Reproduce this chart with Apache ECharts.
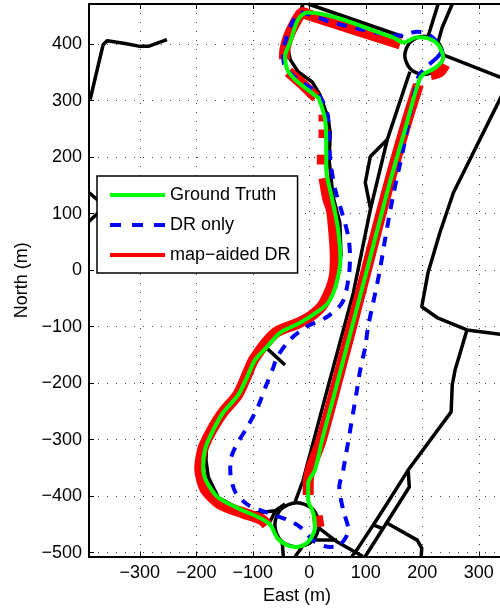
<!DOCTYPE html>
<html><head><meta charset="utf-8">
<style>html,body{margin:0;padding:0;background:#fff}#c{width:500px;height:608px}</style>
<script src="https://cdn.jsdelivr.net/npm/echarts@6/dist/echarts.min.js"></script>
</head><body><div id="c"></div>
<script>
const xTicks=[-300,-200,-100,0,100,200,300];
const yTicks=[-500,-400,-300,-200,-100,0,100,200,300,400];
const groundTruth=[[15.6,307],[28,266],[30,213],[30,178],[40,128],[51,71],[55,18],[46,-30],[33,-58],[14,-74],[-16,-93],[-52,-111],[-75,-136],[-96,-159],[-110,-189],[-126,-221],[-153,-253],[-170,-283],[-184,-315],[-188,-348],[-186,-364],[-179,-380],[-161,-403],[-119,-425],[-91,-437],[-69,-451],[-57,-474],[-39,-487],[-22,-490],[-2,-481],[10,-455],[7,-430],[-2,-407],[-2,-377],[10,-354],[22.5,-301],[46,-213],[102,0],[139,142],[172,258],[193,332],[201,346],[223,358],[237,376],[228,399],[210,410],[191,412],[166,403],[148,412],[-4,456],[-20,443],[-34,403],[-43,378],[-39,355],[-25,337],[1.4,316],[15.6,305]];
const drOnly=[[226,376],[210,362],[194,344],[187,319],[166,213],[148,130],[134,54],[125,0.5],[113,-58],[104,-100],[99,-136],[90,-177],[85,-208],[60,-354],[53,-384],[60,-425],[69,-460],[54,-487],[37,-490],[10,-481],[-16,-455],[-39,-442],[-73,-430],[-108,-416],[-131,-393],[-140,-354],[-140,-341],[-131,-313],[-110,-278],[-91,-242],[-78,-208],[-64,-173],[-57,-154],[-34,-123],[-4,-100],[31,-83],[58,-58],[69,-17],[72,24],[69,59],[58,101],[46,142],[37,195],[33,272],[22,302],[7,319],[-25,341],[-43,360],[-46,376],[-43,403],[-28,443],[-16,456],[1,452],[42,438],[120,420],[161,415],[175,419],[191,422],[205,420],[219,411],[235,390],[226,376]];
const redTop=[[161,400],[-4,453],[-11,456],[-25,438],[-38,410],[-44,381],[-44,373]];
const redWest=[[-37,351],[-11,328],[5,312],[12,306]];
const redDash1=[[26,275],[26,263]];
const redDash2=[[26,249],[26,234]];
const redDash3=[[23,204],[23,187]];
const redMain=[[26,163],[33,125],[39,107],[43,71],[46,24],[44,-12],[26,-58],[6,-79],[-20,-94],[-60,-111],[-97,-156],[-112,-189],[-127,-221],[-153,-252],[-172,-282],[-187,-312],[-191,-327],[-194,-350],[-188,-380],[-180,-394],[-155,-416],[-117,-430],[-84,-442],[-75,-451]];
const redCircle=[[14,-435],[17,-455]];
const redNorth=[[-2,-398],[-2,-375],[21,-301],[45,-213],[101,0],[138,142],[171,258],[193,328]];
const redEnd=[[215,346],[231,351],[240,364]];
const redPieces=[redTop,redWest,redDash1,redDash2,redDash3,redMain,redCircle,redNorth,redEnd];
const roadFarWest=[[-388,302],[-365,399],[-358,406],[-326,401],[-300,396],[-285,396],[-252,408]];
const roadEdge1=[[-390,137],[-370,120]];
const roadEdge2=[[-370,105],[-390,86]];
const roadLoop=[[-11,471],[-39,399],[-34,373],[-20,351],[5,333],[19,310],[28,284],[33,270],[37,243],[35,195],[42,130],[54,84],[56,27],[46,-30],[33,-58],[14,-74],[-16,-93],[-52,-111],[-75,-136],[-96,-159],[-110,-189],[-126,-221],[-153,-253],[-170,-283],[-182,-315],[-183,-336],[-179,-366],[-161,-403],[-119,-425],[-91,-437],[-69,-446]];
const roadTop=[[-2,471],[166,413]];
const roadMainWest=[[178,351],[138,231],[108,107],[78,-40],[33,-207],[-11,-372],[-25,-410]];
const roadMainEast=[[190,330],[22,-301],[-2,-380]];
const roadBump=[[138,231],[108,201],[99,155],[108,110]];
const circleNorth=[[237,380],[234,393],[227,404],[216,411],[203,414],[190,411],[179,404],[172,393],[169,380],[172,367],[179,356],[190,349],[203,346],[216,349],[227,356],[234,367],[237,380]];
const circleSouth=[[17,-451],[14,-436],[6,-423],[-7,-415],[-22,-412],[-37,-415],[-50,-423],[-58,-436],[-61,-451],[-58,-466],[-50,-479],[-37,-487],[-22,-490],[-7,-487],[6,-479],[14,-466],[17,-451]];
const roadN1=[[210,413],[228,471]];
const roadN2=[[228,404],[235,429],[253,471]];
const roadEast=[[237,381],[346,338]];
const roadFarEast=[[346,320],[255,137],[231,66],[210,-5],[199,-65],[226,-84],[279,-106],[350,-115]];
const roadBranch=[[279,-106],[258,-177],[253,-203],[251,-251],[175,-354],[125,-433],[83,-497],[75,-507]];
const roadInner=[[175,-354],[177,-384],[99,-507]];
const roadCross=[[113,-451],[131,-458]];
const roadSE=[[138,-448],[191,-478],[199,-492],[198,-507]];
const roadSE2=[[15,-455],[49,-481],[95,-507]];
const roadSE3=[[7,-478],[49,-478]];
const roadS1=[[-48,-481],[-46,-507]];
const roadS2=[[-13,-490],[-25,-507]];
const roadW=[[-96,-430],[-60,-426],[-43,-414]];
const roadW2=[[-60,-426],[-70,-446]];
const roadSpur=[[-78,-136],[-43,-168]];
const roads=[roadFarWest,roadEdge1,roadEdge2,roadLoop,roadTop,roadMainWest,roadMainEast,roadBump,roadN1,roadN2,roadEast,roadFarEast,roadBranch,roadInner,roadCross,roadSE,roadSE2,roadSE3,roadS1,roadS2,roadW,roadW2,roadSpur];
const circles=[circleNorth,circleSouth];

const FONT='"Liberation Sans",Arial,sans-serif';
const fmt=v=>String(v).replace('-','\u2212');
const joinPieces=p=>p.flatMap(a=>[...a,['-','-']]);
const series=[];
roads.forEach(r=>series.push({type:'line',data:r,symbol:'none',silent:true,z:2,lineStyle:{color:'#000',width:3.5,join:'round'}}));
circles.forEach(r=>series.push({type:'line',data:r,symbol:'none',smooth:0.4,z:2,lineStyle:{color:'#000',width:3.5}}));
series.push({name:'map\u2212aided DR',type:'line',data:joinPieces(redPieces),symbol:'none',smooth:0.3,z:3,lineStyle:{color:'#ff0000',width:11,cap:'butt'}});
series.push({name:'DR only',type:'line',data:drOnly,symbol:'none',smooth:0.3,z:4,lineStyle:{color:'#0000ff',width:4,type:[10,9]}});
series.push({name:'Ground Truth',type:'line',data:groundTruth,symbol:'none',smooth:0.3,z:5,lineStyle:{color:'#00ff00',width:4}});
const chart=echarts.init(document.getElementById('c'),null,{renderer:'canvas'});
const dotted={show:true,lineStyle:{color:'#444',width:1,type:[1,8]}};
const tick={show:true,inside:true,length:5,lineStyle:{color:'#000',width:1}};
const xCommon={type:'value',min:-390,max:346,axisLine:{show:true,onZero:false,lineStyle:{color:'#000',width:2}}};
const yCommon={type:'value',min:-507,max:471,axisLine:{show:true,onZero:false,lineStyle:{color:'#000',width:2}}};
chart.setOption({
  animation:false,backgroundColor:'#fff',
  grid:{left:89,top:4,width:415.8,height:552.5,show:false,outerBoundsMode:'none'},
  legend:{show:true,left:97,top:176,orient:'vertical',padding:[10,7,9,11],itemWidth:55,itemHeight:14,itemGap:12,
    backgroundColor:'#fff',borderColor:'#000',borderWidth:1.5,borderRadius:0,
    itemStyle:{opacity:0},
    textStyle:{fontFamily:FONT,fontSize:18,color:'#000',lineHeight:18,padding:[0,0,0,0]},
    data:[{name:'Ground Truth',lineStyle:{width:4}},{name:'DR only',lineStyle:{width:4,type:[11,11]}},{name:'map\u2212aided DR',lineStyle:{width:4}}]},
  xAxis:[Object.assign({},xCommon,{position:'bottom',name:'East (m)',nameLocation:'middle',nameGap:28,
      nameTextStyle:{fontFamily:FONT,fontSize:18,color:'#000'},
      axisTick:Object.assign({customValues:xTicks},tick),
      axisLabel:{customValues:xTicks,formatter:fmt,fontFamily:FONT,fontSize:18,color:'#000',margin:8,hideOverlap:false},
      splitLine:dotted}),
    Object.assign({},xCommon,{position:'top',axisTick:Object.assign({customValues:xTicks},tick),axisLabel:{show:false},splitLine:{show:false}})],
  yAxis:[Object.assign({},yCommon,{position:'left',name:'North (m)',nameLocation:'middle',nameGap:56,
      nameTextStyle:{fontFamily:FONT,fontSize:18,color:'#000'},
      axisTick:Object.assign({customValues:yTicks},tick),
      axisLabel:{customValues:yTicks,formatter:fmt,fontFamily:FONT,fontSize:18,color:'#000',margin:7},
      splitLine:dotted})],
  series
});
</script></body></html>
